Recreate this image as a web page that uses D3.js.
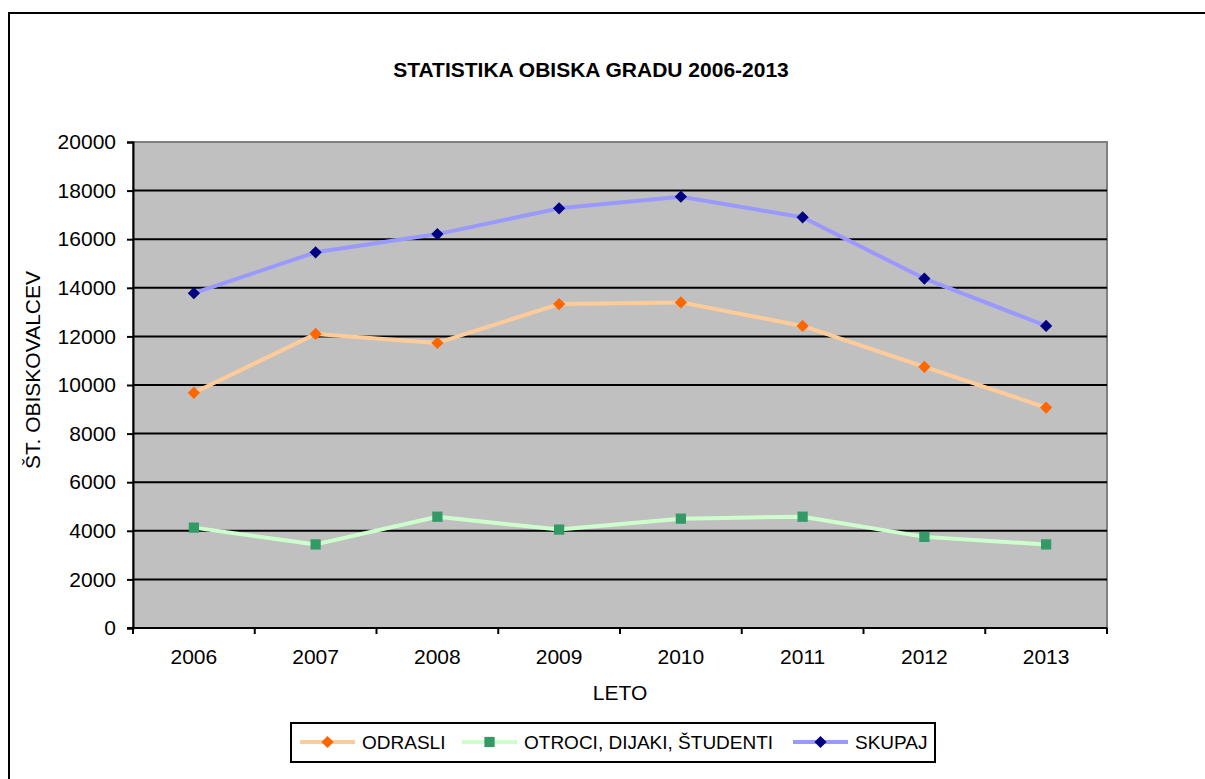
<!DOCTYPE html>
<html>
<head>
<meta charset="utf-8">
<script src="https://cdn.jsdelivr.net/npm/d3@7"></script>
<style>
  body { margin: 0; background: #fff; }
  svg { font-family: Arial, "Liberation Sans", sans-serif; }
</style>
</head>
<body>
<svg id="canvas" width="1205" height="779"></svg>
<script>
// chart data
const years = ['2006', '2007', '2008', '2009', '2010', '2011', '2012', '2013']
const odrasli = [9680, 12100, 11730, 13330, 13400, 12430, 10750, 9070]
const otroci = [4130, 3440, 4580, 4050, 4500, 4580, 3750, 3440]
const skupaj = [13780, 15460, 16210, 17270, 17750, 16900, 14380, 12430]
const yTicks = [0, 2000, 4000, 6000, 8000, 10000, 12000, 14000, 16000, 18000, 20000]

const series = [
  { name: 'ODRASLI', values: odrasli, line: '#FFCC99', mark: '#FF6600', shape: 'diamond' },
  { name: 'OTROCI, DIJAKI, ŠTUDENTI', values: otroci, line: '#CCFFCC', mark: '#339966', shape: 'square' },
  { name: 'SKUPAJ', values: skupaj, line: '#9999FF', mark: '#000080', shape: 'diamond' }
]

let svg = d3.select('#canvas')

// outer frame (runs off the right/bottom edge like the source)
svg.append('rect')
  .attr('x', 9).attr('y', 13)
  .attr('width', 1205).attr('height', 800)
  .attr('fill', 'none').attr('stroke', '#000').attr('stroke-width', 2)

let plotLeft = 133, plotRight = 1107, plotTop = 142, plotBottom = 628

let x = d3.scaleBand().domain(years).range([plotLeft, plotRight])
let y = d3.scaleLinear().domain([0, 20000]).range([plotBottom, plotTop])

// plot area
svg.append('rect')
  .attr('x', plotLeft).attr('y', plotTop)
  .attr('width', plotRight - plotLeft).attr('height', plotBottom - plotTop)
  .attr('fill', '#C0C0C0').attr('stroke', '#808080').attr('stroke-width', 2)

// gridlines
svg.append('g').selectAll('line')
  .data(yTicks.filter(d => d > 0 && d < 20000))
  .enter().append('line')
  .attr('x1', plotLeft).attr('x2', plotRight)
  .attr('y1', d => y(d)).attr('y2', d => y(d))
  .attr('stroke', '#000').attr('stroke-width', 2)

// y axis
let yAxis = svg.append('g')
  .attr('transform', `translate(${plotLeft},0)`)
  .call(d3.axisLeft(y).tickValues(yTicks).tickSize(6).tickPadding(11).tickFormat(d3.format('d')))
yAxis.select('.domain').attr('stroke', '#000').attr('stroke-width', 2)
yAxis.selectAll('.tick line').attr('stroke', '#000').attr('stroke-width', 2)
yAxis.selectAll('text').attr('font-size', 21).attr('fill', '#000')
  .attr('font-family', 'Arial, "Liberation Sans", sans-serif')

// x axis: ticks on band edges
let xAxis = svg.append('g')
  .attr('transform', `translate(0,${plotBottom})`)
xAxis.append('line')
  .attr('x1', plotLeft - 6).attr('x2', plotRight)
  .attr('stroke', '#000').attr('stroke-width', 2)
xAxis.selectAll('line.tk')
  .data(years.concat(['end']))
  .enter().append('line')
  .attr('class', 'tk')
  .attr('x1', (d, i) => plotLeft + i * x.step()).attr('x2', (d, i) => plotLeft + i * x.step())
  .attr('y1', 0).attr('y2', 6)
  .attr('stroke', '#000').attr('stroke-width', 2)
xAxis.selectAll('text')
  .data(years)
  .enter().append('text')
  .attr('x', d => x(d) + x.bandwidth() / 2)
  .attr('y', 36)
  .attr('text-anchor', 'middle')
  .attr('font-size', 21)
  .text(d => d)

// lines and markers
let lineGen = d3.line()
  .x((d, i) => x(years[i]) + x.bandwidth() / 2)
  .y(d => y(d))

let diamond = d3.symbol().type(d3.symbolDiamond2).size(95)
let square = d3.symbol().type(d3.symbolSquare).size(105)

series.forEach(s => {
  svg.append('path')
    .datum(s.values)
    .attr('d', lineGen)
    .attr('fill', 'none')
    .attr('stroke', s.line)
    .attr('stroke-width', 4)
    .attr('stroke-linejoin', 'round')

  svg.append('g').selectAll('path')
    .data(s.values)
    .enter().append('path')
    .attr('transform', (d, i) => `translate(${x(years[i]) + x.bandwidth() / 2},${y(d)})`)
    .attr('d', s.shape === 'square' ? square : diamond)
    .attr('fill', s.mark)
})

// titles
svg.append('text')
  .attr('x', 591).attr('y', 77)
  .attr('text-anchor', 'middle')
  .attr('font-size', 21).attr('font-weight', 'bold')
  .text('STATISTIKA OBISKA GRADU 2006-2013')

svg.append('text')
  .attr('transform', 'translate(40,370) rotate(-90)')
  .attr('text-anchor', 'middle')
  .attr('font-size', 21)
  .text('ŠT. OBISKOVALCEV')

svg.append('text')
  .attr('x', 620).attr('y', 700)
  .attr('text-anchor', 'middle')
  .attr('font-size', 21)
  .text('LETO')

// legend
let legend = svg.append('g')
legend.append('rect')
  .attr('x', 291).attr('y', 723)
  .attr('width', 644).attr('height', 39)
  .attr('fill', '#fff').attr('stroke', '#000').attr('stroke-width', 2)

let legendX = [300, 462, 793]
series.forEach((s, i) => {
  let g = legend.append('g').attr('transform', `translate(${legendX[i]},742)`)
  g.append('line')
    .attr('x1', 0).attr('x2', 55)
    .attr('stroke', s.line).attr('stroke-width', 4)
  g.append('path')
    .attr('transform', 'translate(27.5,0)')
    .attr('d', s.shape === 'square' ? square : diamond)
    .attr('fill', s.mark)
  g.append('text')
    .attr('x', 62).attr('y', 6.5)
    .attr('font-size', 19)
    .text(s.name)
})
</script>
</body>
</html>
